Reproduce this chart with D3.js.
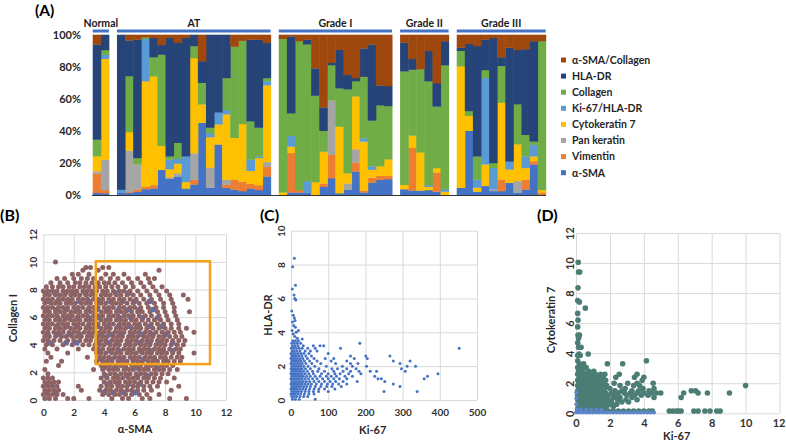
<!DOCTYPE html>
<html><head><meta charset="utf-8">
<script src="https://cdn.jsdelivr.net/npm/d3@7"></script>
<style>body{margin:0;background:#fff}svg{display:block}text{font-family:Lato,'Open Sans',sans-serif}</style>
</head><body>
<svg id="c" width="786" height="442"></svg>
<script>
// ================= Panel A data =================
const markers = ["α-SMA","Vimentin","Pan keratin","Cytokeratin 7","Ki-67/HLA-DR","Collagen","HLA-DR","α-SMA/Collagen"];
const markerColors = ["#4472C4","#ED7D31","#A5A5A5","#FFC000","#5B9BD5","#70AD47","#264478","#9E480E"];
const groupNames = ["Normal","AT","Grade I","Grade II","Grade III"];
const pctTicks = [0,20,40,60,80,100];
// each bar: [α-SMA, Vimentin, Pan keratin, Cytokeratin 7, Ki-67/HLA-DR, Collagen, HLA-DR, α-SMA/Collagen] (%)
const normalBars = [
  [1.2,12,1.5,9.4,0,10.4,59.5,6],
  [1,2,19,63,2.5,3,9.5,0]
];
const atBars = [
  [1.2,0,0,0,2,0,96.8,0],
  [1.2,0.5,26,11.5,0,35,22.3,3.5],
  [1.9,1.5,15.6,0,0,4,74,3],
  [3.5,1.5,0,66,26.5,1,0,1.5],
  [4,2,0,68,0,12,12,2],
  [15.6,0,0,15,0,57,6,6.4],
  [10,0,1,5,6,2,74,2],
  [11.5,0,2,6,3,10,62.5,5],
  [4,0,0,4,16,0,74,2],
  [6.5,3,16.5,59.5,0,7.5,7,0],
  [45,0,0,11.5,0,13.5,13.5,16.5],
  [4.5,0,12.5,19,2.5,3.5,58,0],
  [31.5,0,0,12.5,7.5,0,48.5,0],
  [4.4,2,3,41,2.7,20,27,0],
  [3.3,6.3,0,26,0,57,0,7.4],
  [2.3,6,0,36,0,52,0,3.7],
  [4,3,0,8,7,24,51,3],
  [3,3,0,17,1,18,55,3],
  [11.5,6,3,48,2.5,2,22,5]
];
const grade1Bars = [
  [0,0,0,1.5,0,96,0,2.5],
  [1.5,24.6,0,4,6.7,14,48,1],
  [1.5,1.5,0,0,0,93,0,4],
  [1.5,0,0,0,7,85.5,3,3],
  [0,0,0,8,0,54,17,21],
  [5,2,0,20,0,13,14.6,45.4],
  [10.4,14.6,34,0,0,22,1.5,17.5],
  [1,0,0,41.6,0,24,24,9.4],
  [3.1,0,4,6.3,0,52.5,9,25],
  [14.6,5.6,8.3,33,0,9.5,2,27],
  [1.5,1.2,0,30.6,2,38.5,17.7,8.5],
  [7.7,3,0,5,2,28.7,47.6,6],
  [9.4,2.5,0,6,0,38,12.5,31.6],
  [9.8,2,0,10.4,0,33.3,12.5,32]
];
const grade2Bars = [
  [3.5,0,0,2.7,0,71,18,4.8],
  [2.7,26.5,0,7.7,0,41,6.7,15],
  [2.7,0,0,23.8,0,52,0,21.5],
  [3,0,0,2,1,65,19,10],
  [2,12,0,2.7,0,38.5,14.6,30.2],
  [0,0,0,2,1.5,77.5,15,4]
];
const grade3Bars = [
  [4.4,0,0,76,0,9.6,2,8],
  [40,0,0,9.4,0,3,42,5.6],
  [2,0,0,2.5,5,14.5,69,7],
  [5.5,0,0,13.5,54,5,19,3],
  [2.3,0,1,0,13.5,3,78,2],
  [2.3,7.3,0,48,0,23,5.4,14],
  [7.5,0,0,8.3,5,0,71,8],
  [1.3,0,7.3,23,0,25,34,9.4],
  [3.3,6.2,0,7.3,7.2,13.5,53.5,9],
  [19,2,0,3,7.3,2,62.7,4],
  [0,1.5,0,1.5,0,93,0,4]
];

// ================= Panel B data (α-SMA vs Collagen I) =================
// rows: [y, x1, x2, ...]
const bBrownRows = [
[10.0,0.8],
[9.6,2.8,3.1,3.9,4.3],
[9.4,2.6,3.6,7.6],
[9.1,1.9,2.3,3.0,4.1,4.6,5.3,6.7],
[8.8,0.9,1.4,2.0,2.5,2.9,3.3,3.8,4.4,4.9,5.6,6.2,6.9,7.3],
[8.5,0.5,1.1,1.6,2.1,2.4,2.8,3.2,3.6,4.0,4.3,4.7,5.2,5.8,6.4,7.0],
[8.2,0.2,0.6,1.0,1.3,1.7,2.0,2.4,2.7,3.0,3.4,3.7,4.1,4.5,4.9,5.4,5.9,6.6,7.2,7.8],
[7.9,0.0,0.3,0.6,0.9,1.3,1.6,1.9,2.2,2.6,2.9,3.2,3.5,3.9,4.2,4.6,5.0,5.3,5.7,6.2,6.8,7.4,8.1],
[7.6,0.1,0.4,0.8,1.1,1.4,1.8,2.1,2.4,2.8,3.1,3.4,3.8,4.1,4.4,4.8,5.1,5.5,5.9,6.4,7.0,7.6,8.3,9.2],
[7.3,0.0,0.3,0.6,1.0,1.3,1.6,1.9,2.3,2.6,2.9,3.3,3.6,3.9,4.3,4.6,5.0,5.3,5.7,6.1,6.6,7.1,7.7,8.4,9.5],
[7.0,0.1,0.5,0.8,1.1,1.5,1.8,2.1,2.5,2.8,3.1,3.5,3.8,4.1,4.5,4.8,5.1,5.5,5.9,6.3,6.8,7.3,7.9,8.5],
[6.7,0.0,0.3,0.6,1.0,1.3,1.6,2.0,2.3,2.6,3.0,3.3,3.6,4.0,4.3,4.6,5.0,5.3,5.7,6.0,6.4,6.9,7.4,7.9,8.6],
[6.4,0.1,0.4,0.8,1.1,1.4,1.8,2.1,2.4,2.8,3.1,3.4,3.8,4.1,4.4,4.8,5.1,5.4,5.8,6.2,6.5,7.0,7.5,8.0,8.6,9.6],
[6.1,0.0,0.3,0.6,0.9,1.3,1.6,1.9,2.3,2.6,2.9,3.3,3.6,3.9,4.3,4.6,4.9,5.3,5.6,5.9,6.3,6.7,7.1,7.6,8.1,8.7],
[5.8,0.1,0.4,0.8,1.1,1.4,1.8,2.1,2.4,2.8,3.1,3.4,3.8,4.1,4.4,4.8,5.1,5.4,5.8,6.1,6.5,6.9,7.3,7.7,8.2,8.8],
[5.5,0.0,0.3,0.6,1.0,1.3,1.6,2.0,2.3,2.6,3.0,3.3,3.6,4.0,4.3,4.6,5.0,5.3,5.6,6.0,6.3,6.7,7.1,7.5,7.9,8.4,8.9],
[5.2,0.1,0.4,0.8,1.1,1.4,1.8,2.1,2.4,2.8,3.1,3.4,3.8,4.1,4.4,4.8,5.1,5.4,5.8,6.1,6.4,6.8,7.2,7.6,8.0,8.4,8.9,9.4],
[4.9,0.0,0.3,0.7,1.0,1.3,1.7,2.0,2.3,2.7,3.0,3.3,3.7,4.0,4.3,4.7,5.0,5.3,5.7,6.0,6.3,6.7,7.0,7.4,7.8,8.2,8.6,9.0,9.9],
[4.6,0.1,0.4,0.8,1.2,1.5,1.9,2.2,2.5,2.9,3.2,3.6,3.9,4.2,4.6,4.9,5.2,5.6,5.9,6.2,6.6,6.9,7.2,7.6,7.9,8.3,8.7,9.1],
[4.3,0.0,0.3,0.7,1.1,1.6,2.0,2.4,2.8,3.1,3.5,3.8,4.1,4.5,4.8,5.1,5.5,5.8,6.1,6.5,6.8,7.1,7.5,7.8,8.1,8.5,8.9,9.3],
[4.0,0.2,0.6,1.3,1.9,2.6,3.0,3.4,3.7,4.0,4.4,4.7,5.0,5.4,5.7,6.0,6.4,6.7,7.0,7.4,7.7,8.0,8.4,8.8,9.2],
[3.7,0.1,0.9,2.3,3.3,3.6,3.9,4.3,4.6,4.9,5.3,5.6,5.9,6.3,6.6,6.9,7.3,7.6,7.9,8.3,8.7,9.0],
[3.4,0.3,1.6,3.5,3.8,4.1,4.5,4.8,5.1,5.5,5.8,6.1,6.5,6.8,7.1,7.5,7.8,8.1,8.5,8.9,9.9],
[3.1,0.5,2.9,3.7,4.0,4.3,4.7,5.0,5.3,5.7,6.0,6.3,6.7,7.0,7.3,7.7,8.0,8.4,8.8,9.1],
[2.8,0.2,1.2,3.5,3.9,4.2,4.5,4.9,5.2,5.5,5.9,6.2,6.5,6.9,7.2,7.5,7.9,8.2,8.6,9.0],
[2.5,1.0,3.8,4.1,4.4,4.8,5.1,5.4,5.8,6.1,6.4,6.8,7.1,7.4,7.8,8.1,8.5],
[2.2,0.1,3.3,3.9,4.3,4.6,4.9,5.3,5.6,5.9,6.3,6.6,6.9,7.3,7.6,7.9,8.3,8.8],
[1.9,0.3,4.0,4.4,4.7,5.1,5.4,5.7,6.1,6.4,6.7,7.1,7.4,7.8,8.2],
[1.6,0.0,0.3,0.6,3.8,4.2,4.6,4.9,5.2,5.6,5.9,6.2,6.6,6.9,7.3,7.7,8.6],
[1.3,0.1,0.4,0.7,1.0,4.0,4.4,4.7,5.0,5.4,5.7,6.0,6.4,6.8,7.2,7.6,8.1],
[1.0,0.0,0.3,0.6,0.9,2.3,3.8,4.2,4.5,4.9,5.2,5.5,5.9,6.2,6.6,7.0,7.5,8.9],
[0.7,0.1,0.4,0.7,1.0,2.5,3.7,4.1,4.4,4.8,5.1,5.5,5.8,6.2,6.6,7.1,8.4],
[0.4,0.0,0.3,0.6,0.9,1.3,3.9,4.3,4.7,5.0,5.4,5.8,6.3,6.8,7.6],
[0.1,0.1,0.4,0.8,1.6,2.0,3.0,4.5,5.2,5.6,6.5,7.0,8.3,9.4]
];
const bBlueRows = [
[7.75,0.2,0.75,1.45,2.05,2.75,3.3,4.0,4.75,5.6],
[7.15,0.3,0.95,1.65,2.4,3.0,3.7,4.4,5.2,6.0,7.0],
[6.55,0.2,0.85,1.5,2.2,2.95,3.5,4.2,4.95,5.6,6.3,7.2],
[5.95,0.25,0.95,1.6,2.25,3.0,3.7,4.35,5.0,5.75,6.5,7.5],
[5.35,0.2,0.9,1.55,2.2,2.95,3.55,4.25,4.95,5.65,6.3,7.0,7.8],
[4.75,0.3,1.0,1.7,2.4,3.1,3.8,4.45,5.15,5.8,6.5,7.2,8.0],
[4.15,0.4,1.5,2.2,3.6,4.3,4.9,5.6,6.3,7.0,7.7,8.5],
[3.55,3.7,4.4,5.0,5.7,6.4,7.1,7.8,8.5],
[2.95,3.8,4.5,5.2,5.9,6.6,7.3,8.0],
[2.35,4.0,4.7,5.4,6.1,6.8,7.5],
[1.75,4.1,4.8,5.5,6.2,6.9],
[1.15,0.2,0.6,4.2,4.9,5.6,6.3],
[0.55,0.25,0.8,4.0,4.6,5.3,6.0]
];
const bGate = {x0:3.45, x1:10.95, y0:2.6, y1:10.05};
const bTicks = [0,2,4,6,8,10,12];

// ================= Panel C data (Ki-67 vs HLA-DR) =================
const cRows = [
[3.5,5,12,20],
[3.35,2,9,17,26,185],
[3.2,4,11,19,33,60,78,88],
[3.05,1,7,14,22,30,45,65,133,452],
[2.9,3,9,16,24,38,52,70],
[2.75,0,6,12,19,27,35,48,100],
[2.6,2,8,14,21,29,40,55,160,201,266],
[2.45,0,5,11,17,24,32,44,62,92,115,170,205],
[2.3,2,8,14,20,27,36,50,70,108,150,275,320],
[2.15,0,5,11,17,23,30,40,56,80,120,160,180,293],
[2.0,2,8,14,20,26,34,46,64,95,138,165,203,312,335],
[1.85,0,5,11,17,23,30,39,52,75,110,125,150,175,297],
[1.7,2,8,14,20,26,34,44,58,72,90,115,140,160,183,213,230,307],
[1.55,0,5,11,17,23,30,38,48,60,82,100,118,132,155,188,395],
[1.4,2,8,14,20,26,33,42,52,65,78,95,108,122,145,165,225,367],
[1.25,0,5,11,17,23,30,38,47,58,70,85,100,115,130,150,234,243,358],
[1.1,2,8,14,20,26,33,41,50,62,75,90,105,120,140,178,252],
[0.95,0,5,11,17,23,30,38,46,55,68,82,98,112,128,150,275],
[0.8,2,8,14,20,26,34,42,52,65,80,96,110,135,293],
[0.65,0,5,11,17,24,32,40,50,62,75,90,118],
[0.5,2,8,14,20,28,38,48,60,74,100,250,339],
[0.35,0,5,11,18,26,36,48,62],
[0.2,2,8,15,24,34,45],
[0.05,4,12,22,65]
];
const cOutliers = [[9,8.37],[4.5,7.87],[12,6.78],[3.6,6.55],[8,6.2],[10,6.0],[13,5.9],[2,5.25],[6,5.0],[9,4.85],[11,4.7],[4,4.6],[7,4.4],[12,4.3],[3,4.1],[14,4.0],[20,4.1],[6,3.9],[10,3.75],[30,3.6],[17,3.65]];
const cXTicks = [0,100,200,300,400,500];
const cYTicks = [0,2,4,6,8,10];

// ================= Panel D data (Ki-67 vs Cytokeratin 7) =================
const dTealRows = [
[10.05,0.13],
[9.4,0.15,0.22],
[8.35,0.12],
[7.5,0.1],
[7.4,0.2],
[7.0,0.55],
[6.65,0.1],
[6.2,0.12],
[5.75,0.1],
[5.2,0.12,0.2],
[5.0,0.15],
[4.7,0.1],
[4.4,0.15,0.3],
[3.95,0.18,0.72],
[3.85,0.1,0.25],
[3.5,0.1,4.15],
[3.3,0.2,0.45,1.85,2.75],
[3.05,0.1,0.35,0.6],
[2.8,0.15,0.4,0.75,1.05],
[2.6,0.1,0.3,0.55,0.85,1.15,1.45,1.7,2.55,3.6],
[2.4,0.2,0.45,0.7,1.0,1.3,1.6,2.35,3.45,4.0],
[2.2,0.1,0.35,0.6,0.9,1.2,1.5,1.75,3.9],
[2.0,0.2,0.45,0.75,1.05,1.35,1.65,2.25,3.05,3.6,4.55],
[1.85,0.1,0.35,0.6,0.9,1.2,1.5,1.8,2.6,3.4,3.75,10.0],
[1.65,0.2,0.5,0.8,1.1,1.4,1.7,2.0,2.9,3.95,4.6],
[1.5,0.1,0.35,0.65,0.95,1.25,1.55,2.3,2.7,3.3,3.7,4.3,6.8,7.05],
[1.35,0.2,0.5,0.8,1.1,1.4,1.75,2.1,2.5,2.85,3.2,3.6,4.0,4.45,4.75,5.0,6.35,7.2,7.75,9.05],
[1.2,0.1,0.35,0.65,0.95,1.25,1.55,1.9,2.35,3.0,3.45,3.85,4.25],
[1.05,0.2,0.5,0.8,1.1,1.4,1.7,2.2,2.6,3.3,4.6,6.2],
[0.9,0.1,0.35,0.65,0.95,1.25,1.55,1.9,2.45,2.95,3.6],
[0.75,0.2,0.5,0.8,1.1,1.4,1.75,2.1,2.7,3.1],
[0.6,0.1,0.35,0.65,0.95,1.25,1.6,2.0,2.4],
[0.45,0.2,0.5,0.8,1.1,1.45,1.8,2.2],
[0.3,0.1,0.35,0.65,0.95,1.3,1.65],
[0.15,0.1,0.4,0.7,1.0,1.3,1.6,1.9,2.2,2.5,2.8,3.1,3.4,3.7,4.0,4.3,4.5,5.5,5.7,5.9,6.05,6.2,6.95,7.2,7.6,7.9,8.3,8.5]
];
const dBlueRows = [
[0.05,0.0,0.2,0.4,0.6,0.8,1.0,1.2,1.4,1.6,1.8,2.0,2.2,2.4,2.6,2.8,3.0,3.2,3.4,3.6,3.8,4.0,4.2,4.4,4.6],
[0.25,0.05,0.3,0.6,0.9,1.2,1.5],
[0.6,0.02],[1.0,0.02],[1.4,0.02]
];
const dTicks = [0,2,4,6,8,10,12];

// ================= Drawing =================
const svg = d3.select("#c");
const FONT = "Lato,'Open Sans',sans-serif";

// ---- Panel A ----
const yA = d3.scaleLinear([0,1],[195,35]);
const allGroups = [normalBars, atBars, grade1Bars, grade2Bars, grade3Bars];
const slots = [], rows = [], spans = [];
allGroups.forEach((bars, gi) => {
  if (gi > 0) slots.push("gap" + gi);
  const ids = [];
  bars.forEach((vals, bi) => {
    const id = groupNames[gi] + "-" + bi;
    slots.push(id); ids.push(id);
    const r = {id};
    markers.forEach((m, mi) => r[m] = vals[mi]);
    rows.push(r);
  });
  spans.push({name: groupNames[gi], first: ids[0], last: ids[ids.length - 1]});
});
const xA = d3.scaleBand(slots, [92.7, 545.7]).padding(0);
const stacked = d3.stack().keys(markers).offset(d3.stackOffsetExpand)(rows);
svg.append("g").selectAll("g").data(stacked).join("g")
  .attr("fill", (d, i) => markerColors[i])
  .selectAll("rect").data(d => d).join("rect")
  .attr("x", d => xA(d.data.id)).attr("width", xA.bandwidth() + 0.5)
  .attr("y", d => yA(d[1]) - 0.3)
  .attr("height", d => Math.max(0, yA(d[0]) - yA(d[1]) + (d[1] - d[0] > 0 ? 0.3 : 0)));

svg.append("line").attr("x1", 92).attr("x2", 546).attr("y1", 195.5).attr("y2", 195.5)
  .attr("stroke", "#333").attr("stroke-width", 1);

const axA = svg.append("g").attr("transform", "translate(81,0)")
  .call(d3.axisLeft(d3.scaleLinear([0,100],[195,35])).tickValues(pctTicks).tickFormat(d => d + "%").tickSize(0).tickPadding(0));
axA.select(".domain").remove();
axA.attr("font-family", FONT).attr("font-size", 11).attr("font-weight", "bold");
axA.selectAll("text").attr("fill", "#262626");

const hdr = svg.append("g").selectAll("g").data(spans).join("g");
hdr.append("rect").attr("x", d => xA(d.first)).attr("y", 29.5)
  .attr("width", d => xA(d.last) + xA.bandwidth() - xA(d.first)).attr("height", 3).attr("fill", "#4472C4");
hdr.append("text").attr("x", d => (xA(d.first) + xA(d.last) + xA.bandwidth()) / 2).attr("y", 26.5)
  .attr("text-anchor", "middle").attr("font-size", 10.5).attr("font-weight", "bold").attr("fill", "#1a1a1a")
  .text(d => d.name);

svg.append("text").attr("x", 35).attr("y", 16).attr("font-size", 15.5).attr("font-weight", "bold").text("(A)");

// legend
const legOrder = markers.map((m, i) => ({m, c: markerColors[i]})).reverse();
const leg = svg.append("g").selectAll("g").data(legOrder).join("g")
  .attr("transform", (d, i) => `translate(561,${60 + i * 16.1})`);
leg.append("rect").attr("x", 0).attr("y", -2.5).attr("width", 5).attr("height", 5).attr("fill", d => d.c);
leg.append("text").attr("x", 11).attr("y", 3.8).attr("font-size", 10.5).attr("font-weight", "bold")
  .attr("fill", "#262626").text(d => d.m);

// ---- Scatter panel helper ----
const fromRows = rs => rs.flatMap(r => r.slice(1).map(x => [x, r[0]]));
function panel(cfg) {
  const x = d3.scaleLinear(cfg.xd, [cfg.l, cfg.r]);
  const y = d3.scaleLinear(cfg.yd, [cfg.b, cfg.t]);
  const g = svg.append("g");
  const gx = g.append("g").attr("transform", `translate(0,${cfg.b})`)
    .call(d3.axisBottom(x).tickValues(cfg.xt).tickSize(-(cfg.b - cfg.t)).tickFormat(""));
  const gy = g.append("g").attr("transform", `translate(${cfg.l},0)`)
    .call(d3.axisLeft(y).tickValues(cfg.yt).tickSize(-(cfg.r - cfg.l)).tickFormat(""));
  [gx, gy].forEach(a => { a.select(".domain").remove(); a.selectAll("line").attr("stroke", "#d9d9d9"); });
  const lx = g.append("g").attr("transform", `translate(0,${cfg.b})`)
    .call(d3.axisBottom(x).tickValues(cfg.xt).tickSize(0).tickPadding(0));
  lx.select(".domain").remove();
  lx.attr("font-family", FONT).attr("font-size", cfg.fs).attr("font-weight", "bold");
  lx.selectAll("text").attr("y", cfg.xlab).attr("dy", 0).attr("fill", "#333");
  const ly = g.append("g").attr("transform", `translate(${cfg.l},0)`)
    .call(d3.axisLeft(y).tickValues(cfg.yt).tickSize(0).tickPadding(0));
  ly.select(".domain").remove();
  ly.attr("font-family", FONT).attr("font-size", cfg.fs).attr("font-weight", "bold");
  ly.selectAll("text").attr("x", 0).attr("dy", 0).attr("text-anchor", "middle")
    .attr("transform", `translate(${-cfg.ylab},0) rotate(-90)`).attr("fill", "#333");
  cfg.layers.forEach(L => {
    g.append("g").selectAll("circle").data(L.pts).join("circle")
      .attr("cx", d => x(d[0])).attr("cy", d => y(d[1])).attr("r", L.r).attr("fill", L.c);
  });
  g.append("text").attr("x", cfg.xTitle[0]).attr("y", cfg.xTitle[1]).attr("text-anchor", "middle")
    .attr("font-size", cfg.tfs).attr("font-weight", "bold").attr("fill", "#262626").text(cfg.xName);
  g.append("text").attr("transform", `translate(${cfg.yTitle[0]},${cfg.yTitle[1]}) rotate(-90)`)
    .attr("text-anchor", "middle").attr("font-size", cfg.tfs).attr("font-weight", "bold").attr("fill", "#262626").text(cfg.yName);
  g.append("text").attr("x", cfg.tag[0]).attr("y", cfg.tag[1]).attr("font-size", 16).attr("font-weight", "bold").text(cfg.tagText);
  return {x, y, g, lx};
}

// ---- Panel B ----
const B = panel({
  xd: [0,12], yd: [0,12], l: 43.3, r: 226, b: 400, t: 234.3, xt: bTicks, yt: bTicks,
  fs: 10, xlab: 15.5, ylab: 6.5, tfs: 11,
  layers: [{pts: fromRows(bBlueRows), r: 2.9, c: "#5a70b6"}, {pts: fromRows(bBrownRows), r: 2.5, c: "#8e6262"}],
  xName: "α-SMA", xTitle: [135, 433], yName: "Collagen I", yTitle: [16.5, 318],
  tag: [0, 221], tagText: "(B)"
});
B.g.append("rect").attr("x", B.x(bGate.x0)).attr("y", B.y(bGate.y1))
  .attr("width", B.x(bGate.x1) - B.x(bGate.x0)).attr("height", B.y(bGate.y0) - B.y(bGate.y1))
  .attr("fill", "none").attr("stroke", "#F5A21B").attr("stroke-width", 2.5);

// ---- Panel C ----
panel({
  xd: [0,500], yd: [0,10], l: 291, r: 477, b: 400, t: 230.7, xt: cXTicks, yt: cYTicks,
  fs: 10, xlab: 16, ylab: 6, tfs: 11,
  layers: [{pts: fromRows(cRows).concat(cOutliers), r: 1.5, c: "#4472C4"}],
  xName: "Ki-67", xTitle: [372.7, 434], yName: "HLA-DR", yTitle: [272, 315],
  tag: [260, 221], tagText: "(C)"
});

// ---- Panel D ----
const D = panel({
  xd: [0,12], yd: [0,12], l: 576, r: 779.5, b: 413.3, t: 233, xt: dTicks, yt: dTicks,
  fs: 11, xlab: 14, ylab: 2.5, tfs: 11,
  layers: [{pts: fromRows(dTealRows), r: 2.8, c: "#4c7d75"}, {pts: fromRows(dBlueRows), r: 2, c: "#5b86cc"}],
  xName: "Ki-67", xTitle: [676.7, 440], yName: "Cytokeratin 7", yTitle: [555, 320],
  tag: [537, 221], tagText: "(D)"
});
D.lx.selectAll("text").filter(d => d === 12).attr("text-anchor", "end").attr("dx", 5.5);
</script>
</body></html>
